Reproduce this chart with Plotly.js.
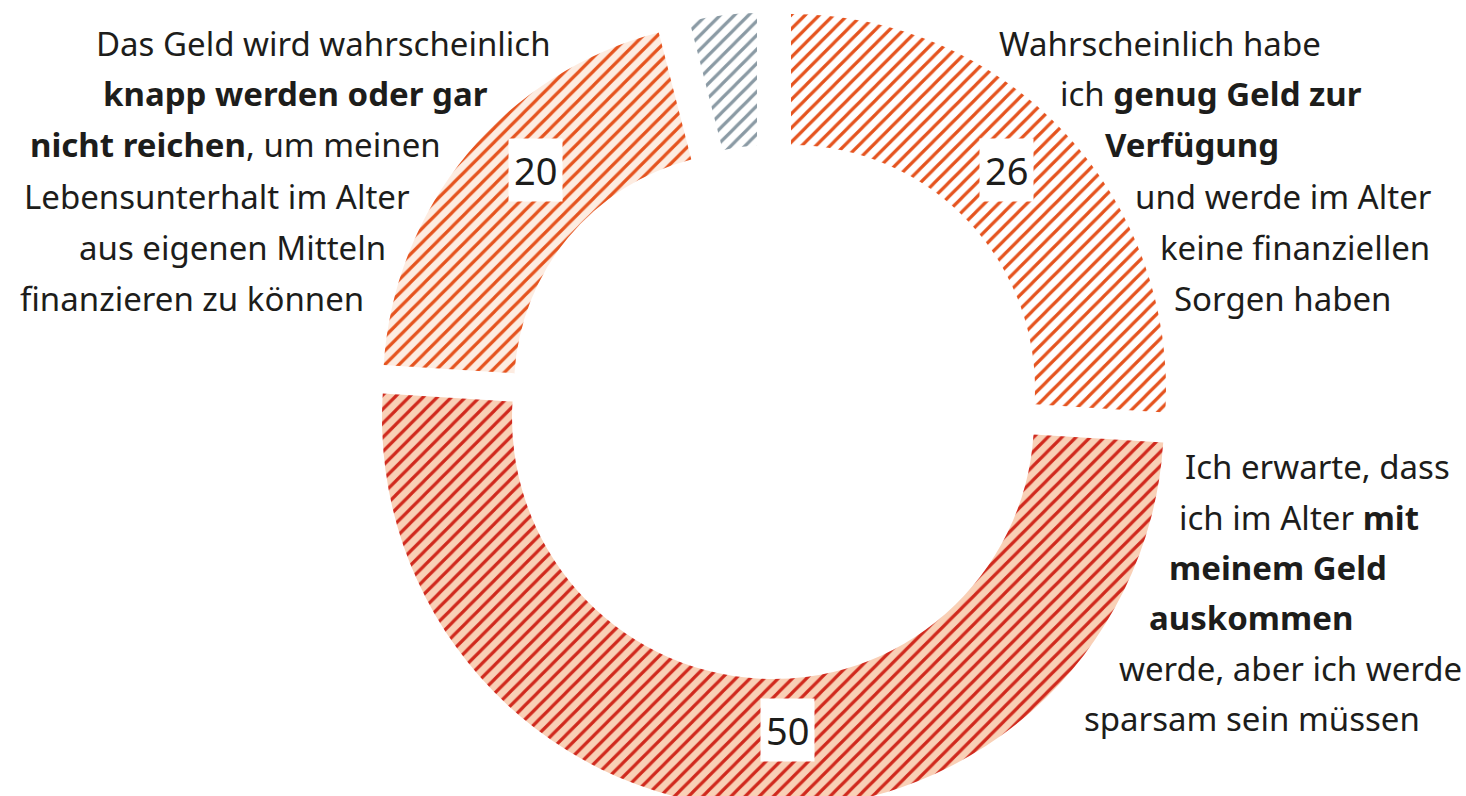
<!DOCTYPE html>
<html>
<head>
<meta charset="utf-8">
<script src="https://cdn.plot.ly/plotly-3.0.1.min.js"></script>
<style>
html,body{margin:0;padding:0;width:1466px;height:796px;overflow:hidden;background:#fff;}
#chart{width:1466px;height:820px;}
</style>
</head>
<body>
<div id="chart"></div>
<script>
// ---- data ----
const categories = [
  'Wahrscheinlich habe ich genug Geld zur Verfügung',
  'Ich erwarte, dass ich im Alter mit meinem Geld auskommen werde',
  'Das Geld wird wahrscheinlich knapp werden oder gar nicht reichen',
  'Weiß nicht / keine Angabe'
];
const shares = [26, 50, 20, 4];
const showValue = [true, true, true, false];

// ---- styles ----
const stripeColors = ['#e5531e', '#d0291d', '#e5531e', '#8a9aa4'];
const fillColors   = ['#ffffff', '#f9d0b6', '#fdece1', '#ffffff'];

// ---- layout geometry (pixels) ----
const W = 1466, H = 820;
// each slice drawn by its own pie (exploded, own radius)
const sliceGeom = [
  {cx: 791, cy: 389, r: 375, inner: 244},
  {cx: 773, cy: 418, r: 391, inner: 261},
  {cx: 750, cy: 388, r: 367, inner: 236},
  {cx: 757, cy: 284, r: 271, inner: 138}
];
const valueLabelPos = [[1006, 170], [787, 730], [535, 170]];

const px = x => x / W;
const py = y => 1 - y / H;
const TRANSPARENT = 'rgba(0,0,0,0)';

const traces = sliceGeom.map((g, i) => ({
  type: 'pie',
  values: shares,
  labels: categories,
  sort: false,
  direction: 'clockwise',
  rotation: 0,
  hole: g.inner / g.r,
  domain: {x: [px(g.cx - g.r), px(g.cx + g.r)], y: [py(g.cy + g.r), py(g.cy - g.r)]},
  marker: {
    colors: shares.map((v, j) => j === i ? fillColors[j] : TRANSPARENT),
    line: {width: 0},
    pattern: {
      shape: shares.map((v, j) => j === i ? '/' : ''),
      fgcolor: shares.map((v, j) => j === i ? stripeColors[j] : TRANSPARENT),
      bgcolor: shares.map((v, j) => j === i ? fillColors[j] : TRANSPARENT),
      size: 10,
      solidity: 0.32
    }
  },
  textinfo: 'none',
  hoverinfo: 'none',
  showlegend: false
}));

const FONT = '"Noto Sans", "Open Sans", sans-serif';
const TXT = '#1d1d1b';
const FS = 33;

// outer text lines: [text, anchor x, center y, xanchor]
const textLines = [
  ['Das Geld wird wahrscheinlich', 553, 43, 'right'],
  ['<b>knapp werden oder gar</b>', 490, 94, 'right'],
  ['<b>nicht reichen</b>, um meinen', 443, 145, 'right'],
  ['Lebensunterhalt im Alter', 412, 196, 'right'],
  ['aus eigenen Mitteln', 388, 247, 'right'],
  ['finanzieren zu können', 366, 298, 'right'],
  ['Wahrscheinlich habe', 997, 43, 'left'],
  ['ich <b>genug Geld zur</b>', 1058, 94, 'left'],
  ['<b>Verfügung</b>', 1103, 145, 'left'],
  ['und werde im Alter', 1133, 196, 'left'],
  ['keine finanziellen', 1158, 247, 'left'],
  ['Sorgen haben', 1172, 298, 'left'],
  ['Ich erwarte, dass', 1183, 467, 'left'],
  ['ich im Alter <b>mit</b>', 1177, 517, 'left'],
  ['<b>meinem Geld</b>', 1167, 567, 'left'],
  ['<b>auskommen</b>', 1147, 617, 'left'],
  ['werde, aber ich werde', 1117, 668, 'left'],
  ['sparsam sein müssen', 1082, 718, 'left']
];

const annotations = textLines.map(([t, x, y, xa]) => ({
  text: t, xref: 'paper', yref: 'paper', x: px(x), y: py(y),
  xanchor: xa, yanchor: 'middle', showarrow: false,
  font: {family: FONT, size: FS, color: TXT}
}));

let k = 0;
shares.forEach((v, i) => {
  if (!showValue[i]) return;
  const [x, y] = valueLabelPos[k++];
  annotations.push({
    text: String(v), xref: 'paper', yref: 'paper', x: px(x), y: py(y),
    xanchor: 'center', yanchor: 'middle', showarrow: false,
    bgcolor: '#ffffff', borderpad: 5,
    font: {family: FONT, size: 38, color: TXT}
  });
});

const layout = {
  width: W, height: H,
  margin: {l: 0, r: 0, t: 0, b: 0},
  paper_bgcolor: '#ffffff',
  plot_bgcolor: '#ffffff',
  showlegend: false,
  annotations: annotations
};

Plotly.newPlot('chart', traces, layout, {displayModeBar: false, staticPlot: true});
</script>
</body>
</html>
